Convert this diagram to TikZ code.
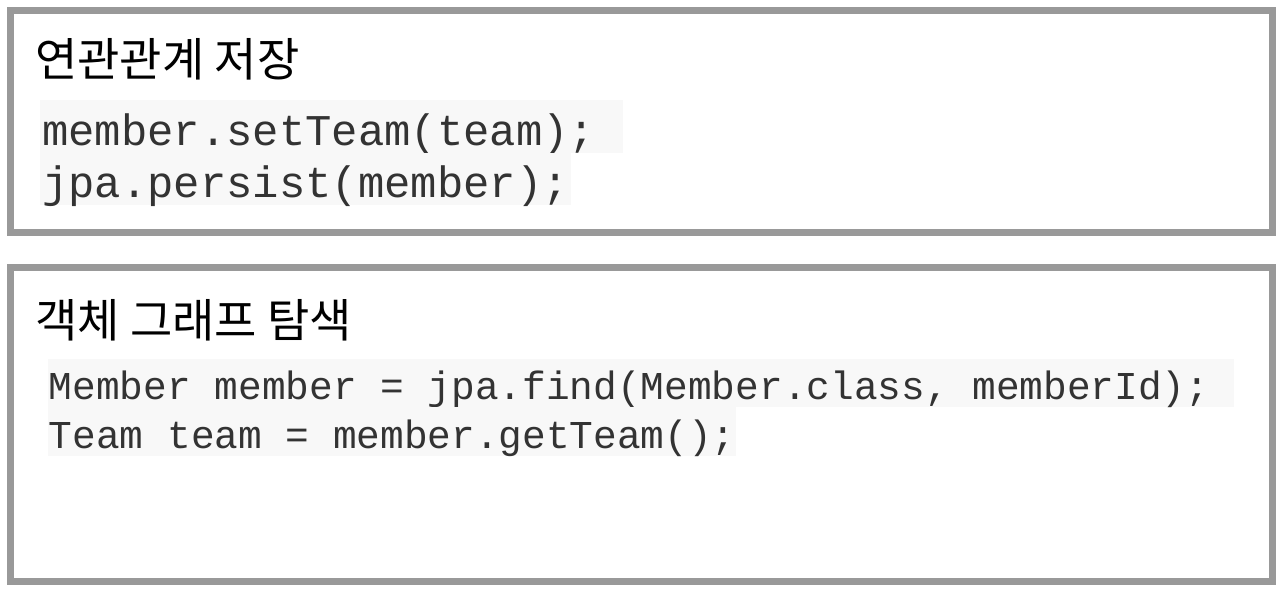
\documentclass[tikz,border=0pt]{standalone}
\usepackage{fontspec}
\setmainfont{Liberation Sans}
\newfontfamily\kofont{Noto Sans CJK KR}
\newfontfamily\codefont{Liberation Mono}
\definecolor{bordergray}{HTML}{999999}
\definecolor{codebg}{HTML}{F8F8F8}
\definecolor{codetext}{HTML}{333333}
\begin{document}
\begin{tikzpicture}[x=0.75pt,y=-0.75pt,
  panel/.style={draw=bordergray,line width=5.25pt},
  titletext/.style={anchor=base west,inner sep=0pt,font=\kofont\fontsize{34.5pt}{40pt}\selectfont,text=black},
  codeA/.style={anchor=base west,inner sep=0pt,inner xsep=1.5pt,fill=codebg,text=codetext,font=\codefont\fontsize{32.9pt}{38pt}\selectfont,text depth=6pt},
  codeB/.style={anchor=base west,inner sep=0pt,inner xsep=0.5pt,fill=codebg,text=codetext,font=\codefont\fontsize{29.6pt}{34pt}\selectfont,text depth=6pt}
]
\useasboundingbox (0,0) rectangle (1278,590);
\fill[white] (0,0) rectangle (1278,590);
% panels
\draw[panel] (10.5,10) rectangle (1272,232);
\draw[panel] (10.5,267.5) rectangle (1272,581.5);
% titles
\node[titletext] (t1) at (35,76) {연관관계 저장};
\node[titletext] (t2) at (35,337) {객체 그래프 탐색};
% code 1
\node[codeA,text height=33.75pt] (c1) at (40,145) {member.setTeam(team);\phantom{;}};
\node[codeA,text height=33pt] (c2) at (40,197) {jpa.persist(member);};
% code 2
\node[codeB,text height=30pt] (d1) at (48,399) {Member member = jpa.find(Member.class, memberId);\phantom{;}};
\node[codeB,text height=30.75pt] (d2) at (48,448) {Team team = member.getTeam();};
\end{tikzpicture}
\end{document}
